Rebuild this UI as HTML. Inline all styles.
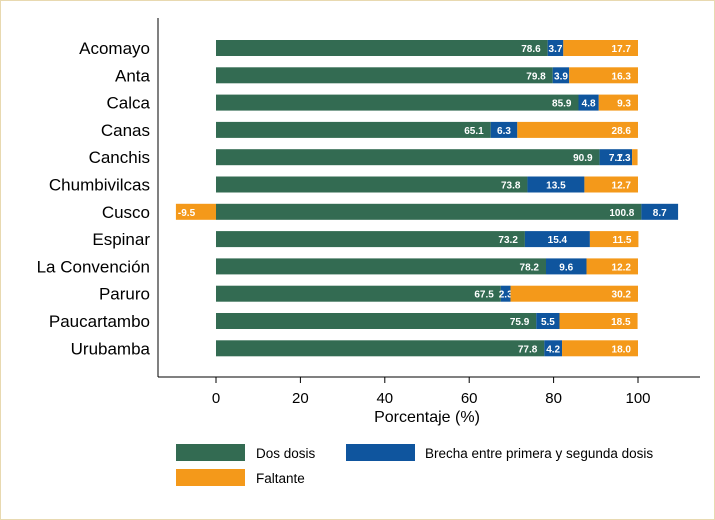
<!DOCTYPE html>
<html><head><meta charset="utf-8"><style>
body{margin:0;background:#fff}
svg{font-family:"Liberation Sans",sans-serif;display:block}
</style></head><body>
<svg width="715" height="520">
<rect x="0.5" y="0.5" width="714" height="519" fill="#fff" stroke="#e8d9b0"/>
<g id="plot"></g>
<g>
<g><rect x="176" y="444" width="69" height="17" fill="#336b52"/><text x="256" y="458" font-size="13.5">Dos dosis</text></g>
<g><rect x="346" y="444" width="69" height="17" fill="#0f559e"/><text x="425" y="458" font-size="13.5">Brecha entre primera y segunda dosis</text></g>
<g><rect x="176" y="469" width="69" height="17" fill="#f4991a"/><text x="256" y="483" font-size="13.5">Faltante</text></g>
</g>
</svg>
<script>
const categories=["Acomayo","Anta","Calca","Canas","Canchis","Chumbivilcas","Cusco","Espinar","La Convención","Paruro","Paucartambo","Urubamba"];
const dosDosis=[78.6,79.8,85.9,65.1,90.9,73.8,100.8,73.2,78.2,67.5,75.9,77.8];
const brecha=[3.7,3.9,4.8,6.3,7.7,13.5,8.7,15.4,9.6,2.3,5.5,4.2];
const faltante=[17.7,16.3,9.3,28.6,1.3,12.7,-9.5,11.5,12.2,30.2,18.5,18.0];
const ticks=[0,20,40,60,80,100];
const NS="http://www.w3.org/2000/svg";
const g=document.getElementById('plot');
const x=v=>216+v*4.22;
const yc=i=>48+i*27.3;
function mk(t,a,p){const e=document.createElementNS(NS,t);for(const k in a)e.setAttribute(k,a[k]);(p||g).appendChild(e);return e;}
const ax=mk('line',{x1:158,y1:18,x2:158,y2:377,stroke:'#000'});


const bx=mk('line',{x1:158,y1:377,x2:700,y2:377,stroke:'#000'});


ticks.forEach(t=>{
 const l=mk('line',{x1:x(t),y1:377,x2:x(t),y2:383,stroke:'#000'});
 
 
 const tx=mk('text',{x:x(t),y:403,'font-size':15,'text-anchor':'middle'});tx.textContent=t;
 
 
});
const tt=mk('text',{x:427,y:422,'font-size':16,'text-anchor':'middle'});tt.textContent="Porcentaje (%)";


function seg(a,b,yy,col,val,name,mode){
 const lo=Math.min(a,b),hi=Math.max(a,b);
 const r=mk('rect',{x:x(lo),y:yy-8,width:x(hi)-x(lo),height:16,fill:col});
 
 
 const t=mk('text',{'font-size':10,'font-weight':'bold',fill:'#fff',y:yy+4});
 if(mode==='mid'){t.setAttribute('x',(x(a)+x(b))/2);t.setAttribute('text-anchor','middle');}
 else if(b>=a){t.setAttribute('x',x(b)-7);t.setAttribute('text-anchor','end');}
 else{t.setAttribute('x',x(b)+2);t.setAttribute('text-anchor','start');}
 t.textContent=val.toFixed(1);
 
 
}
categories.forEach((c,i)=>{
 const yy=yc(i);
 const l=mk('text',{x:150,y:yy+6,'font-size':17,'text-anchor':'end'});l.textContent=c;
 
 
 const d=dosDosis[i],b=brecha[i],f=faltante[i];
 seg(0,d,yy,'#336b52',d,'bar-dos-dosis');
 seg(d,d+b,yy,'#0f559e',b,'bar-brecha','mid');
 if(f>=0)seg(d+b,d+b+f,yy,'#f4991a',f,'bar-faltante');
 else seg(0,f,yy,'#f4991a',f,'bar-faltante');
});
</script>
</body></html>
